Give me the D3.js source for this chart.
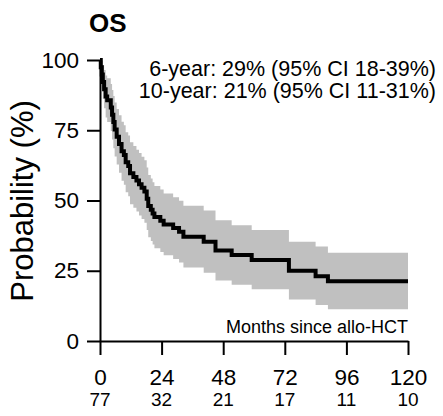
<!DOCTYPE html>
<html>
<head>
<meta charset="utf-8">
<script src="https://cdn.jsdelivr.net/npm/d3@7"></script>
<style>
  body { margin: 0; background: #fff; }
  svg { font-family: "Liberation Sans", Arial, sans-serif; }
</style>
</head>
<body>
<div id="chart"></div>
<script>
// KM estimate for OS (months, %)
var times = [0, 0.3, 0.7, 1.1, 1.6, 2.2, 2.8, 4.2, 4.7, 5.2, 5.7, 6.5, 7.4, 8.4, 9.3, 10.0,
  11.0, 11.7, 13.0, 14.2, 15.2, 16.2, 17.3, 18.2, 18.8, 19.8, 20.5, 21.2, 23.5, 24.8,
  28.5, 30.8, 32.5, 40.4, 45.0, 51.3, 59.1, 73.6, 84.0, 88.8, 120];
var surv = [100, 97.4, 94.8, 92.2, 89.6, 87.0, 85.7, 83.1, 80.5, 77.9, 75.3, 72.7, 70.1, 67.5, 66.2, 63.6,
  62.3, 59.7, 58.4, 57.1, 55.8, 54.5, 53.2, 50.6, 48.0, 46.7, 45.4, 44.1, 42.8, 41.5,
  40.2, 38.9, 37.1, 35.3, 32.2, 30.6, 28.8, 25.0, 23.0, 21.3, 21.3];
var lower = [100, 93.8, 89.9, 86.2, 82.8, 79.5, 77.9, 74.7, 71.7, 68.6, 65.7, 62.8, 59.9, 57.0, 55.6, 52.9,
  51.5, 48.7, 47.4, 46.1, 44.7, 43.4, 42.1, 39.5, 36.9, 35.6, 34.3, 33.0, 31.7, 30.5,
  29.2, 27.9, 26.2, 24.3, 21.5, 20.0, 18.4, 14.8, 12.8, 11.3, 11.3];
var upper = [100, 100, 99.7, 98.2, 96.4, 94.5, 93.5, 91.5, 89.3, 87.2, 84.9, 82.6, 80.3, 78.0, 76.8, 74.3,
  73.1, 70.7, 69.4, 68.1, 66.9, 65.6, 64.3, 61.7, 59.1, 57.8, 56.5, 55.2, 53.9, 52.5,
  51.2, 49.9, 48.1, 46.4, 43.0, 41.2, 39.5, 35.3, 33.6, 31.4, 31.4];

var xTicks = [0, 24, 48, 72, 96, 120];
var atRisk = [77, 32, 21, 17, 11, 10];
var yTicks = [0, 25, 50, 75, 100];

var svgWidth = 443;
var svgHeight = 416;
var margin = { top: 60, right: 35, bottom: 75, left: 100 };
var chartWidth = svgWidth - margin.left - margin.right;
var chartHeight = svgHeight - margin.top - margin.bottom;

var svg = d3.select("#chart")
  .append("svg")
  .attr("width", svgWidth)
  .attr("height", svgHeight);

var chartGroup = svg.append("g")
  .attr("transform", `translate(${margin.left}, ${margin.top})`);

var xScale = d3.scaleLinear().domain([0, 120]).range([0, chartWidth]);
var yScale = d3.scaleLinear().domain([0, 100]).range([chartHeight, 0]);

var km = times.map((t, i) => ({ t: t, s: surv[i], lo: lower[i], hi: upper[i] }));

// confidence band
var band = d3.area()
  .curve(d3.curveStepAfter)
  .x(d => xScale(d.t))
  .y0(d => yScale(d.lo))
  .y1(d => yScale(d.hi));

chartGroup.append("path")
  .datum(km)
  .attr("d", band)
  .attr("fill", "#c0c0c0");

// axes
var leftAxis = d3.axisLeft(yScale)
  .tickValues(yTicks)
  .tickSize(13)
  .tickSizeOuter(0)
  .tickPadding(8);

var bottomAxis = d3.axisBottom(xScale)
  .tickValues(xTicks)
  .tickSize(14)
  .tickSizeOuter(0)
  .tickPadding(14);

var yAxisG = chartGroup.append("g").call(leftAxis);
var xAxisG = chartGroup.append("g")
  .attr("transform", "translate(0, " + chartHeight + ")")
  .call(bottomAxis);

[yAxisG, xAxisG].forEach(function(g) {
  g.selectAll("path, line").attr("stroke", "#000").attr("stroke-width", 2);
  g.selectAll("text")
    .attr("fill", "#000")
    .style("font-size", "22.5px")
    .style("font-family", "Liberation Sans, Arial, sans-serif");
});

// survival curve
var line = d3.line()
  .curve(d3.curveStepAfter)
  .x(d => xScale(d.t))
  .y(d => yScale(d.s));

chartGroup.append("path")
  .datum(km)
  .attr("d", line)
  .attr("fill", "none")
  .attr("stroke", "#000")
  .attr("stroke-width", 4);

// numbers at risk
chartGroup.selectAll(".risk")
  .data(atRisk)
  .enter()
  .append("text")
  .attr("class", "risk")
  .attr("x", (d, i) => xScale(xTicks[i]))
  .attr("y", chartHeight + 65)
  .attr("text-anchor", "middle")
  .attr("font-size", "19px")
  .text(d => d);

// x label inside the plot
chartGroup.append("text")
  .attr("x", chartWidth)
  .attr("y", chartHeight - 8)
  .attr("text-anchor", "end")
  .attr("font-size", "18px")
  .text("Months since allo-HCT");

// y label
svg.append("text")
  .attr("transform", "translate(33, 201) rotate(-90)")
  .attr("text-anchor", "middle")
  .attr("font-size", "31px")
  .text("Probability (%)");

// title
svg.append("text")
  .attr("x", 89)
  .attr("y", 32)
  .attr("font-size", "26px")
  .attr("font-weight", "bold")
  .text("OS");

// estimates
var notes = ["6-year: 29% (95% CI 18-39%)", "10-year: 21% (95% CI 11-31%)"];
svg.selectAll(".note")
  .data(notes)
  .enter()
  .append("text")
  .attr("class", "note")
  .attr("x", 436)
  .attr("y", (d, i) => 76 + i * 22)
  .attr("text-anchor", "end")
  .attr("font-size", "21.5px")
  .text(d => d);
</script>
</body>
</html>
